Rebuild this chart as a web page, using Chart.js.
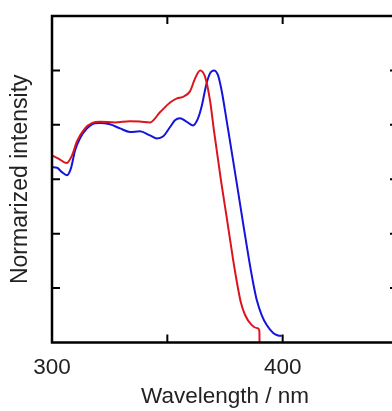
<!DOCTYPE html>
<html>
<head>
<meta charset="utf-8">
<script src="https://cdn.jsdelivr.net/npm/chart.js@4"></script>
<style>
  html, body { margin: 0; padding: 0; background: #fff; overflow: hidden; }
  #wrap { width: 410px; height: 411px; }
</style>
</head>
<body>
<div id="wrap"><canvas id="chart" width="410" height="411"></canvas></div>
<script>
// red spectrum (wavelength nm, normalized intensity)
const redX = [300, 302.6, 306.4, 308.7, 310.8, 314.3, 317.3, 320.8, 327.3, 333.8, 338.1, 342.5,
  346.8, 351.2, 354.2, 356.8, 359.8, 362.0, 364.2, 366.3, 368.5, 370.2, 373.25, 376.1, 378.6,
  380.3, 381.8, 383.7, 386.6, 389.2, 389.9, 390.0];
const redY = [0.688, 0.677, 0.660, 0.688, 0.739, 0.787, 0.806, 0.811, 0.809, 0.813, 0.812, 0.809,
  0.846, 0.882, 0.897, 0.903, 0.923, 0.970, 1.0, 0.978, 0.890, 0.780, 0.596, 0.440, 0.300,
  0.215, 0.150, 0.101, 0.064, 0.052, 0.042, -0.02];

// blue spectrum
const blueX = [300, 302.2, 304.3, 306.5, 308.2, 310, 312.1, 315.2, 318.6, 320.8, 325.1, 329.5,
  333.8, 338.1, 342.5, 345.5, 348.1, 351.2, 353.3, 355.5, 358.1, 361.1, 363.3, 365.0, 366.8,
  368.5, 370.2, 372.0, 373.7, 375.0, 376.4, 380.3, 383.0, 385.3, 387.3, 388.8, 390.9, 393.1,
  395.9, 398.0, 399.6];
const blueY = [0.644, 0.642, 0.626, 0.615, 0.640, 0.706, 0.750, 0.787, 0.806, 0.807, 0.802, 0.787,
  0.774, 0.776, 0.761, 0.750, 0.757, 0.792, 0.817, 0.824, 0.813, 0.798, 0.824, 0.872, 0.945,
  0.989, 1.0, 0.982, 0.919, 0.853, 0.780, 0.575, 0.430, 0.310, 0.215, 0.155, 0.101, 0.064,
  0.035, 0.026, 0.024];

const xTicks = [350, 400];          // tick marks inside the frame
const xLabels = [300, 400];         // labelled values
const yTicks = [0.2, 0.4, 0.6, 0.8, 1.0];

function pts(xs, ys) {
    return xs.map((x, i) => ({ x: x, y: ys[i] }));
}

// draws the box and the inward tick marks
const frame = {
    id: 'frame',
    afterDraw(chart) {
        let ctx = chart.ctx;
        let a = chart.chartArea;
        let sx = chart.scales.x, sy = chart.scales.y;
        ctx.save();
        ctx.strokeStyle = '#000';
        ctx.lineWidth = 2.5;
        ctx.strokeRect(a.left, a.top, a.right - a.left, a.bottom - a.top);
        ctx.lineWidth = 2;
        ctx.beginPath();
        xTicks.forEach(v => {
            let px = sx.getPixelForValue(v);
            ctx.moveTo(px, a.bottom); ctx.lineTo(px, a.bottom - 8);
            ctx.moveTo(px, a.top); ctx.lineTo(px, a.top + 8);
        });
        yTicks.forEach(v => {
            let py = sy.getPixelForValue(v);
            ctx.moveTo(a.left, py); ctx.lineTo(a.left + 8, py);
            ctx.moveTo(a.right, py); ctx.lineTo(a.right - 8, py);
        });
        ctx.stroke();
        ctx.restore();
    }
};

const font = 'Liberation Sans, Arial, sans-serif';

let ctx = document.getElementById('chart').getContext('2d');
let ch = new Chart(ctx, {
    type: 'line',
    data: {
        datasets: [{
            data: pts(redX, redY),
            borderColor: 'rgb(220, 20, 30)',
            borderWidth: 2,
            pointRadius: 0,
            cubicInterpolationMode: 'monotone'
        }, {
            data: pts(blueX, blueY),
            borderColor: 'rgb(20, 20, 220)',
            borderWidth: 2,
            pointRadius: 0,
            cubicInterpolationMode: 'monotone'
        }]
    },
    options: {
        responsive: false,
        animation: false,
        layout: { padding: { left: 0, top: 16, right: 12, bottom: 0 } },
        plugins: { legend: { display: false }, tooltip: { enabled: false } },
        scales: {
            x: {
                type: 'linear',
                min: 300,
                max: 450,
                afterFit: s => { s.height = 68.5; },
                afterBuildTicks: s => { s.ticks = xLabels.map(v => ({ value: v })); },
                grid: { display: false, drawTicks: false },
                border: { display: false },
                ticks: {
                    color: '#222',
                    padding: 12,
                    maxRotation: 0,
                    font: { family: font, size: 22.5 }
                },
                title: {
                    display: true,
                    text: 'Wavelength / nm',
                    color: '#222',
                    padding: { top: 0, bottom: 1 },
                    font: { family: font, size: 22.5 }
                }
            },
            y: {
                min: 0,
                max: 1.2,
                afterFit: s => { s.width = 52; },
                grid: { display: false, drawTicks: false },
                border: { display: false },
                ticks: { display: false },
                title: {
                    display: true,
                    text: 'Normarized intensity',
                    color: '#222',
                    padding: { top: 7, bottom: 0 },
                    font: { family: font, size: 23 }
                }
            }
        }
    },
    plugins: [frame]
});
</script>
</body>
</html>
